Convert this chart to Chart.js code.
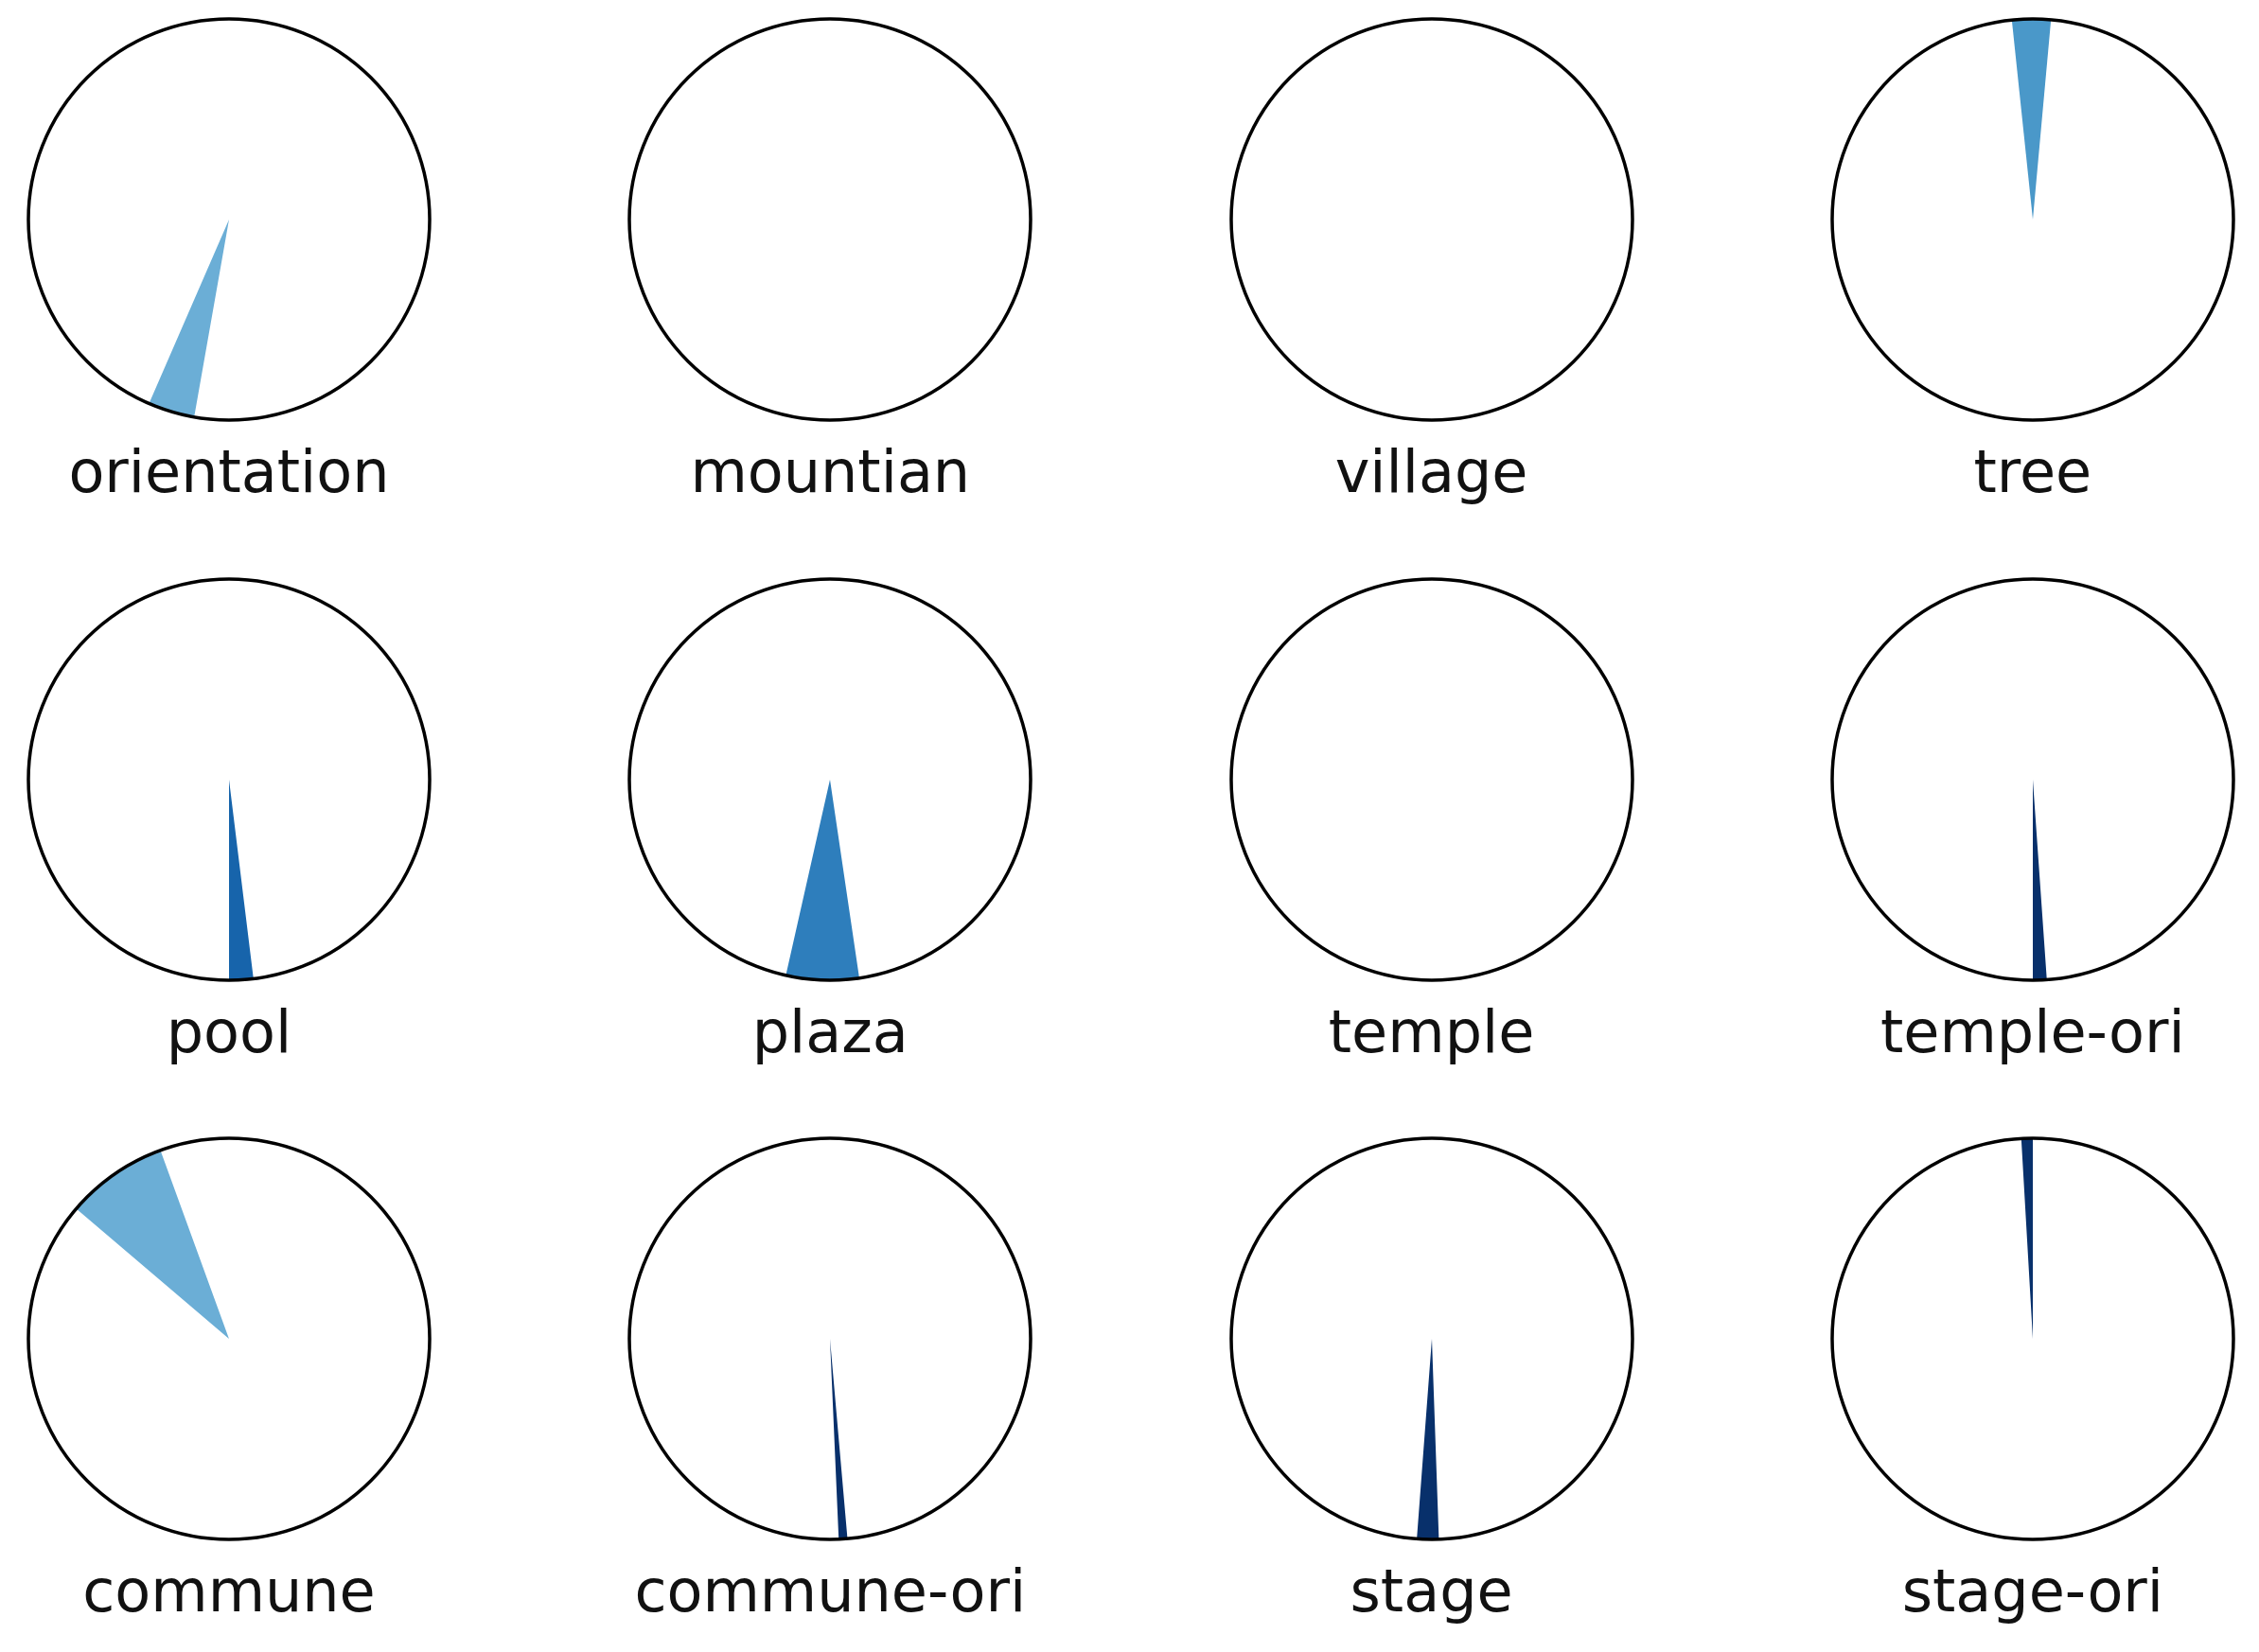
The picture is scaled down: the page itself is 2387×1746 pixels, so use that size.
<!DOCTYPE html>
<html>
<head>
<meta charset="utf-8">
<script src="https://cdn.jsdelivr.net/npm/chart.js@4/dist/chart.umd.min.js"></script>
<style>
    body { margin: 0; background: #fff; width: 2387px; height: 1746px; position: relative; overflow: hidden; }
    .cell { position: absolute; width: 440px; height: 440px; }
    .label {
        position: absolute; width: 600px; text-align: center;
        font-family: 'DejaVu Sans', sans-serif; font-size: 62px; line-height: 62px; color: #111;
    }
</style>
</head>
<body>
<script>
// Les sous-graphiques, dans l'ordre de lecture
const labels = ['orientation', 'mountian', 'village', 'tree',
                'pool', 'plaza', 'temple', 'temple-ori',
                'commune', 'commune-ori', 'stage', 'stage-ori'];

// début du secteur (degrés, sens horaire depuis le haut)
const wedgeStart = [190, 0, 0, 354,
                    173, 171.6, 0, 176,
                    310.4, 175, 178, 356.7];

// largeur du secteur (degrés)
const wedgeSpan = [13.5, 0, 0, 11.2,
                   7, 21.1, 0, 4,
                   29.6, 2.5, 6.3, 3.3];

const wedgeColors = ['#6baed6', '#6baed6', '#6baed6', '#4a98c9',
                     '#1764ab', '#2e7ebc', '#08306b', '#08306b',
                     '#6baed6', '#08306b', '#08306b', '#08306b'];

// Contour noir du cercle
const outline = {
    id: 'outline',
    afterDatasetsDraw(chart) {
        const arc = chart.getDatasetMeta(0).data[0];
        const p = arc.getProps(['x', 'y', 'outerRadius'], true);
        const ctx = chart.ctx;
        ctx.save();
        ctx.beginPath();
        ctx.arc(p.x, p.y, p.outerRadius, 0, Math.PI * 2);
        ctx.lineWidth = 3.5;
        ctx.strokeStyle = '#000';
        ctx.stroke();
        ctx.restore();
    }
};

labels.forEach(function(name, i) {
    var row = Math.floor(i / 4);
    var col = i % 4;
    var cx = 242 + col * 635.3;
    var cy = 232 + row * 591.5;

    var div = document.createElement('div');
    div.className = 'cell';
    div.style.left = (cx - 220) + 'px';
    div.style.top = (cy - 220) + 'px';
    var canvas = document.createElement('canvas');
    canvas.width = 440;
    canvas.height = 440;
    div.appendChild(canvas);
    document.body.appendChild(div);

    var lab = document.createElement('div');
    lab.className = 'label';
    lab.textContent = name;
    lab.style.left = (cx - 300) + 'px';
    lab.style.top = (cy + 236) + 'px';
    document.body.appendChild(lab);

    new Chart(canvas.getContext('2d'), {
        type: 'pie',
        data: {
            labels: [name, ''],
            datasets: [{
                data: [wedgeSpan[i], 360 - wedgeSpan[i]],
                backgroundColor: [wedgeColors[i], 'rgba(0,0,0,0)'],
                borderWidth: 0
            }]
        },
        options: {
            responsive: false,
            animation: false,
            rotation: wedgeStart[i],
            layout: { padding: 8 },
            plugins: {
                legend: { display: false },
                tooltip: { enabled: false }
            }
        },
        plugins: [outline]
    });
});
</script>
</body>
</html>
